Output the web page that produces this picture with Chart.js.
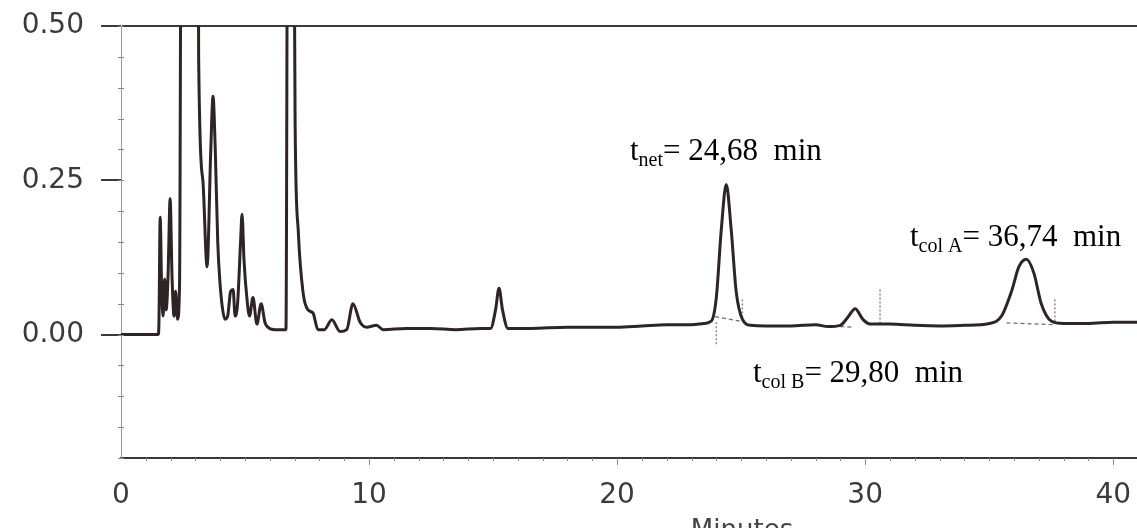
<!DOCTYPE html>
<html>
<head>
<meta charset="utf-8">
<script src="https://cdn.jsdelivr.net/npm/chart.js@4.4.1/dist/chart.umd.min.js"></script>
<style>
  body { margin: 0; overflow: hidden; background: #fff; }
</style>
</head>
<body>
<canvas id="chrom" width="1150" height="528"></canvas>
<script>
// retention time (min) and detector signal
var times = [0, 1.50, 1.53, 1.58, 1.64, 1.70, 1.76, 1.82, 1.90, 1.98, 2.06, 2.14, 2.20, 2.28, 2.36,
  2.44, 3.10, 3.13, 3.30, 3.47, 3.62, 3.71, 3.80, 3.90, 3.99, 4.10, 4.19, 4.30, 4.42, 4.52,
  4.60, 4.70, 4.82, 4.88, 4.96, 5.08, 5.18, 5.32, 5.48, 5.65, 5.80, 5.89, 6.20, 6.65, 6.73,
  6.94, 7.02, 7.15, 7.34, 7.54, 7.74, 7.94, 8.20, 8.50, 8.83, 9.10, 9.35, 9.64, 9.90, 10.30,
  10.57, 11.5, 12.5, 13.5, 14.5, 14.9, 15.1, 15.24, 15.38, 15.6, 16.5, 18, 20, 21, 22,
  23, 23.5, 23.8, 24.0, 24.2, 24.4, 24.6, 24.8, 25.05, 25.4, 26, 27, 28, 28.5, 29.0,
  29.3, 29.6, 29.9, 30.2, 31, 32, 33, 34, 35, 35.5, 35.9, 36.2, 36.5, 36.8, 37.1,
  37.5, 38, 39, 40, 41];
var signal = [0, 0, 0.02, 0.19, 0.07, 0.03, 0.09, 0.04, 0.10, 0.22, 0.09, 0.03, 0.07, 0.025, 0.08,
  0.9, 0.9, 0.45, 0.25, 0.11, 0.30, 0.386, 0.30, 0.15, 0.084, 0.04, 0.025, 0.03, 0.07, 0.073,
  0.03, 0.05, 0.15, 0.195, 0.12, 0.057, 0.03, 0.06, 0.017, 0.05, 0.02, 0.013, 0.008, 0.008, 0.9,
  0.9, 0.34, 0.165, 0.068, 0.04, 0.035, 0.008, 0.008, 0.024, 0.005, 0.008, 0.05, 0.02, 0.012, 0.015,
  0.008, 0.01, 0.01, 0.008, 0.01, 0.01, 0.04, 0.075, 0.04, 0.01, 0.01, 0.012, 0.012, 0.014, 0.016,
  0.016, 0.018, 0.022, 0.06, 0.17, 0.243, 0.17, 0.07, 0.025, 0.015, 0.014, 0.014, 0.016, 0.013, 0.015,
  0.028, 0.042, 0.025, 0.017, 0.017, 0.015, 0.014, 0.015, 0.018, 0.03, 0.07, 0.11, 0.122, 0.10, 0.05,
  0.022, 0.018, 0.018, 0.02, 0.02];

// integration baselines under the peaks
var baseNetX = [23.95, 25.04], baseNetY = [0.029, 0.021];
var baseBX = [29.0, 29.45], baseBY = [0.013, 0.012];
var baseAX = [35.7, 37.6], baseAY = [0.019, 0.016];
// peak start/end markers
var markX = [24.0, 25.05, 30.6, 37.65];
var markTop = [0.02, 0.057, 0.073, 0.057];
var markBottom = [-0.016, 0.021, 0.018, 0.018];

var yLabels = [0, 0.25, 0.5];
var xTicks = [0, 10, 20, 30, 40];

var notes = [
  { sub: 'net', text: '= 24,68  min', x: 630, y: 160 },
  { sub: 'col A', text: '= 36,74  min', x: 910, y: 246 },
  { sub: 'col B', text: '= 29,80  min', x: 753, y: 382 }
];

function pts(xs, ys) {
  return xs.map(function(x, i) { return { x: x, y: ys[i] }; });
}

var datasets = [
  {
    data: pts(times, signal),
    borderColor: '#2e2426',
    borderWidth: 3,
    pointRadius: 0,
    cubicInterpolationMode: 'monotone'
  }
];
[[baseNetX, baseNetY], [baseBX, baseBY], [baseAX, baseAY]].forEach(function(b) {
  datasets.push({ data: pts(b[0], b[1]), borderColor: '#6a6a6a', borderWidth: 1.2, borderDash: [4, 3], pointRadius: 0 });
});
markX.forEach(function(x, i) {
  datasets.push({ data: [{ x: x, y: markTop[i] }, { x: x, y: markBottom[i] }], borderColor: '#8a8a8a', borderWidth: 1.5, borderDash: [2, 2], pointRadius: 0 });
});

var extras = {
  id: 'extras',
  afterDraw: function(chart) {
    var ctx = chart.ctx, xs = chart.scales.x, ys = chart.scales.y;
    ctx.save();
    // small ticks on the axes
    ctx.strokeStyle = '#888';
    ctx.lineWidth = 1;
    for (var v = -0.2; v <= 0.5001; v += 0.05) {
      var py = Math.round(ys.getPixelForValue(v)) + 0.5;
      ctx.beginPath(); ctx.moveTo(xs.left - 3, py); ctx.lineTo(xs.left + 3, py); ctx.stroke();
    }
    for (var t = 1; t <= 40; t++) {
      var px = Math.round(xs.getPixelForValue(t)) + 0.5;
      ctx.beginPath(); ctx.moveTo(px, ys.bottom); ctx.lineTo(px, ys.bottom + (t % 10 === 0 ? 7 : 3)); ctx.stroke();
    }
    // axis title, cut by the bottom edge as in the scan
    ctx.fillStyle = '#444';
    ctx.font = '26px "DejaVu Sans"';
    ctx.textAlign = 'center';
    ctx.textBaseline = 'alphabetic';
    ctx.fillText('Minutes', 742, 538);
    // retention time notes
    ctx.fillStyle = '#000';
    ctx.textAlign = 'left';
    notes.forEach(function(n) {
      var x = n.x;
      ctx.font = '31px "Liberation Serif"';
      ctx.fillText('t', x, n.y);
      x += ctx.measureText('t').width;
      ctx.font = '20px "Liberation Serif"';
      ctx.fillText(n.sub, x, n.y + 6);
      x += ctx.measureText(n.sub).width;
      ctx.font = '31px "Liberation Serif"';
      ctx.fillText(n.text, x, n.y);
    });
    ctx.restore();
  }
};

new Chart(document.getElementById('chrom'), {
  type: 'line',
  data: { datasets: datasets },
  options: {
    responsive: false,
    animation: false,
    devicePixelRatio: 1,
    layout: { padding: { top: 26, right: 12, left: 0, bottom: 0 } },
    plugins: { legend: { display: false }, tooltip: { enabled: false } },
    scales: {
      x: {
        type: 'linear',
        min: 0,
        max: 41,
        afterFit: function(s) { s.height = 70; },
        afterBuildTicks: function(s) { s.ticks = xTicks.map(function(v) { return { value: v }; }); },
        grid: { display: false },
        border: { display: true, color: '#3a3a3a', width: 2 },
        ticks: { color: '#3a3a3a', padding: 13, font: { family: 'DejaVu Sans', size: 28 } }
      },
      y: {
        min: -0.2,
        max: 0.5,
        afterFit: function(s) { s.width = 121; s.paddingTop = 0; s.paddingBottom = 0; },
        afterBuildTicks: function(s) { s.ticks = yLabels.map(function(v) { return { value: v }; }); },
        grid: {
          drawOnChartArea: true,
          color: function(c) { return c.tick && c.tick.value === 0.5 ? '#3a3a3a' : 'rgba(0,0,0,0)'; },
          lineWidth: 2,
          tickColor: '#3a3a3a',
          tickLength: 20,
          tickWidth: 2
        },
        border: { display: true, color: '#999', width: 1 },
        ticks: {
          color: '#3a3a3a',
          padding: 17,
          font: { family: 'DejaVu Sans', size: 28 },
          callback: function(v) { return v.toFixed(2); }
        }
      }
    }
  },
  plugins: [extras]
});
</script>
</body>
</html>
